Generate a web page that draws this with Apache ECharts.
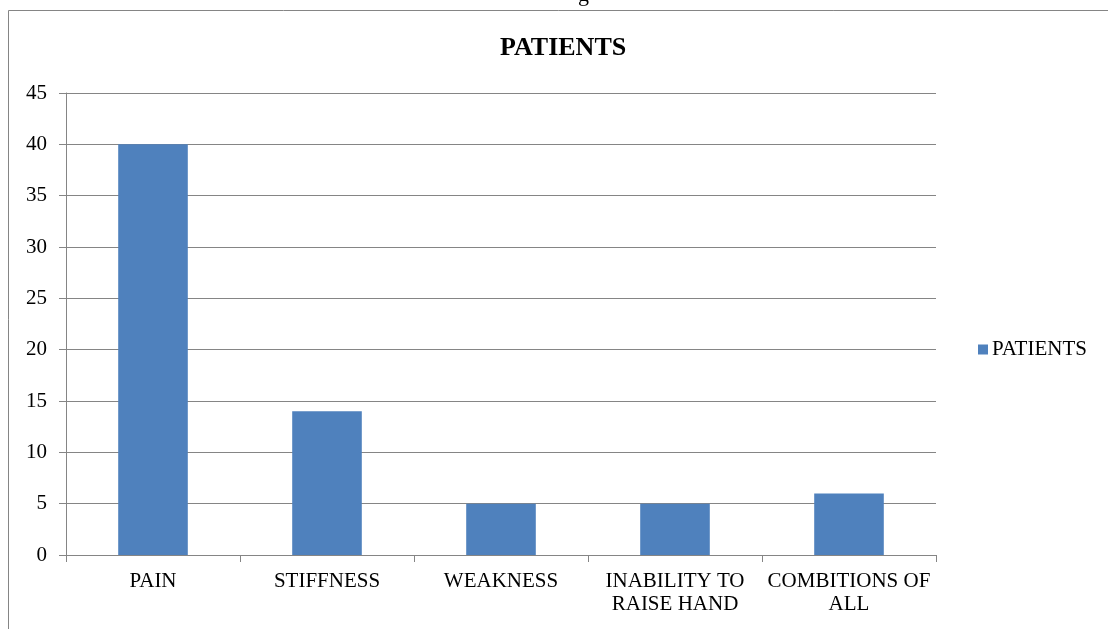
<!DOCTYPE html>
<html>
<head>
<meta charset="utf-8">
<script src="https://cdn.jsdelivr.net/npm/echarts@6/dist/echarts.min.js"></script>
<style>
  html, body { margin: 0; padding: 0; background: #ffffff; }
  #chart { width: 1108px; height: 629px; }
</style>
</head>
<body>
<div id="chart"></div>
<script>
// Complaints reported by patients
const categories = ['PAIN', 'STIFFNESS', 'WEAKNESS', 'INABILITY TO\nRAISE HAND', 'COMBITIONS OF\nALL'];
const patients = [40, 14, 5, 5, 6];
const seriesName = 'PATIENTS';
const titleText = 'PATIENTS';

const serif = '"Liberation Serif", "Times New Roman", serif';
const gray = '#858585';

const chart = echarts.init(document.getElementById('chart'), null, { renderer: 'canvas' });
chart.setOption({
  animation: false,
  backgroundColor: '#ffffff',
  title: {
    text: titleText,
    left: 500,
    top: 35,
    padding: 0,
    textStyle: { fontFamily: serif, fontSize: 26, fontWeight: 'bold', color: '#000000' }
  },
  legend: {
    data: [seriesName],
    left: 978,
    top: 339,
    padding: 0,
    itemWidth: 10,
    itemHeight: 10,
    icon: 'rect',
    textStyle: { fontFamily: serif, fontSize: 21, color: '#000000', padding: [0, 0, 0, -1] }
  },
  grid: { left: 66, right: 172, top: 93, bottom: 74, containLabel: false },
  xAxis: {
    type: 'category',
    data: categories,
    axisLine: { lineStyle: { color: gray, width: 1 } },
    axisTick: { show: true, length: 7, alignWithLabel: false, lineStyle: { color: gray } },
    axisLabel: {
      fontFamily: serif, fontSize: 21, color: '#000000',
      margin: 15, lineHeight: 23, interval: 0
    },
    splitLine: { show: false }
  },
  yAxis: {
    type: 'value',
    min: 0, max: 45, interval: 5,
    axisLine: { show: true, lineStyle: { color: gray, width: 1 } },
    axisTick: { show: true, length: 7, lineStyle: { color: gray } },
    axisLabel: { fontFamily: serif, fontSize: 21, color: '#000000', margin: 19 },
    splitLine: { show: true, lineStyle: { color: gray, width: 1 } }
  },
  series: [{
    name: seriesName,
    type: 'bar',
    data: patients,
    barCategoryGap: '60%',
    itemStyle: { color: '#4f81bd' }
  }],
  graphic: [
    // outer frame: top and left edges
    {
      type: 'polyline',
      shape: { points: [[8.5, 629], [8.5, 10.5], [1108, 10.5]] },
      style: { stroke: gray, lineWidth: 1, fill: null },
      silent: true
    },
    // tail of the caption line above the frame
    {
      type: 'text',
      style: { text: 'g', x: 578, y: 6, verticalAlign: 'bottom', font: '22px ' + serif, fill: '#000000' },
      silent: true
    }
  ]
});
</script>
</body>
</html>
